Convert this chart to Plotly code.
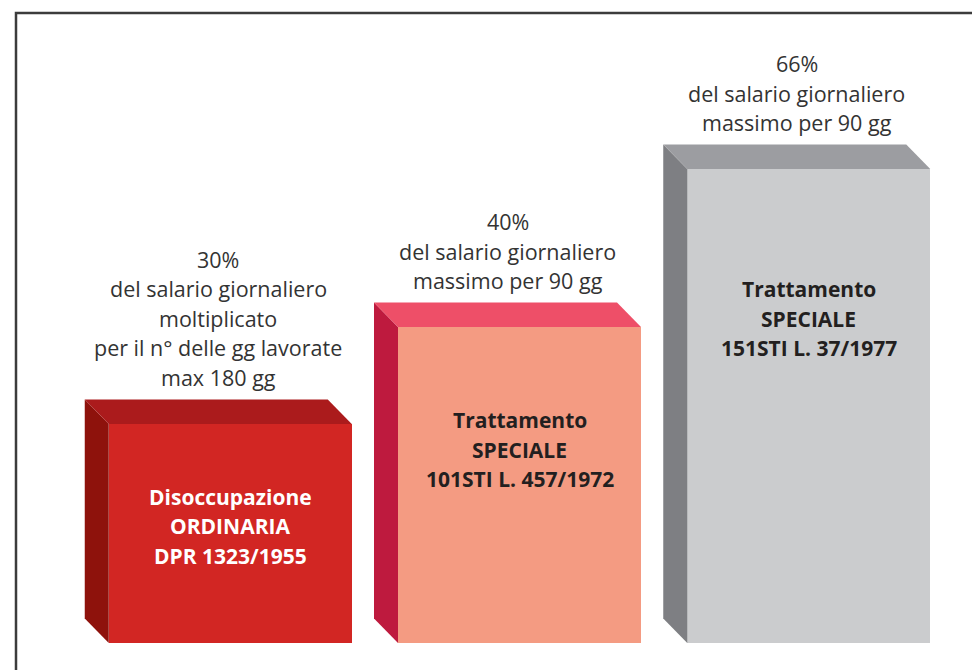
import plotly.graph_objects as go

# ---- data ----
categories = ["Disoccupazione ORDINARIA", "Trattamento SPECIALE 101STI", "Trattamento SPECIALE 151STI"]
percent = [30, 40, 66]
bar_height = [30.5, 44, 66]   # bar heights as drawn in the picture
top_text = [
    ["30%", "del salario giornaliero", "moltiplicato", "per il n° delle gg lavorate", "max 180 gg"],
    ["40%", "del salario giornaliero", "massimo per 90 gg"],
    ["66%", "del salario giornaliero", "massimo per 90 gg"],
]
inner_text = [
    ["Disoccupazione", "ORDINARIA", "DPR 1323/1955"],
    ["Trattamento", "SPECIALE", "101STI L. 457/1972"],
    ["Trattamento", "SPECIALE", "151STI L. 37/1977"],
]

# ---- styles ----
front_col = ["#D22623", "#F49B82", "#CBCCCE"]
top_col = ["#AB1B1C", "#EE4F68", "#9C9DA1"]
side_col = ["#8E120C", "#BE1A3E", "#7E7F83"]
inner_col = ["#FFFFFF", "#231F20", "#231F20"]
inner_shift = [-73, -93, -120]

W, H = 972, 670
px_x = 289.25          # pixels per x unit
px_y = 474 / 66        # pixels per y unit
x0_px, y0_px = 230.25, 643
xr = [-x0_px / px_x, (W - x0_px) / px_x]
yr = [-(H - y0_px) / px_y, y0_px / px_y]
bw = 243 / px_x
dx = 24 / px_x
dy = 24.5 / px_y

xs = list(range(len(categories)))
fig = go.Figure()

for i, h in enumerate(bar_height):
    xl, xrt = xs[i] - bw / 2, xs[i] + bw / 2
    # side face
    fig.add_trace(go.Scatter(
        x=[xl, xl, xl - dx, xl - dx, xl], y=[0, h, h + dy, dy, 0],
        fill="toself", fillcolor=side_col[i], mode="lines",
        line=dict(width=0, color=side_col[i]), hoverinfo="skip", showlegend=False))
    # top face
    fig.add_trace(go.Scatter(
        x=[xl, xrt, xrt - dx, xl - dx, xl], y=[h, h, h + dy, h + dy, h],
        fill="toself", fillcolor=top_col[i], mode="lines",
        line=dict(width=0, color=top_col[i]), hoverinfo="skip", showlegend=False))

fig.add_trace(go.Bar(
    x=xs, y=bar_height, width=bw, marker=dict(color=front_col, line=dict(width=0)),
    hovertext=[f"{c}: {p}%" for c, p in zip(categories, percent)], hoverinfo="text",
    showlegend=False))

ann = []
for i, h in enumerate(bar_height):
    lines = top_text[i]
    n = len(lines)
    for j, t in enumerate(lines):
        ann.append(dict(x=xs[i] - dx / 2, y=h, xref="x", yref="y", text=t, showarrow=False,
                        yanchor="middle", xanchor="center",
                        yshift=24.5 + 22 + (n - 1 - j) * 29.5,
                        font=dict(family="Open Sans", size=21.5, color="#333333")))
    for j, t in enumerate(inner_text[i]):
        ann.append(dict(x=xs[i], y=h, xref="x", yref="y", text=f"<b>{t}</b>", showarrow=False,
                        yanchor="middle", xanchor="center",
                        yshift=inner_shift[i] - j * 29.5,
                        font=dict(family="Open Sans", size=21, color=inner_col[i])))

fig.update_layout(
    width=W, height=H, margin=dict(l=0, r=0, t=0, b=0),
    paper_bgcolor="white", plot_bgcolor="white",
    xaxis=dict(range=xr, visible=False, fixedrange=True),
    yaxis=dict(range=yr, visible=False, fixedrange=True),
    annotations=ann, bargap=0,
    shapes=[dict(type="path", xref="paper", yref="paper",
                 path=f"M {16/W} 0 L {16/W} {1-13/H} L 1 {1-13/H}",
                 line=dict(color="#3C3C3C", width=2.5))],
)
fig.write_html("out.html")
